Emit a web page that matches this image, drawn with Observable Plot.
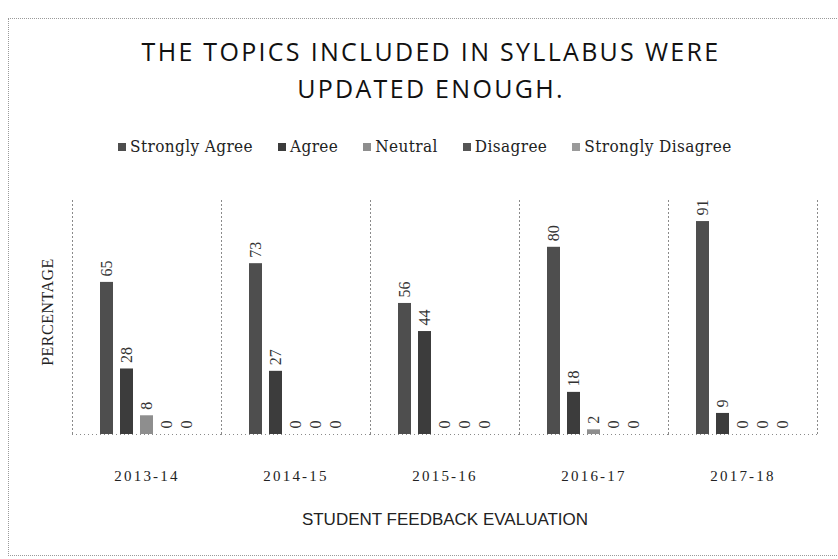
<!DOCTYPE html>
<html><head><meta charset="utf-8">
<script src="https://cdn.jsdelivr.net/npm/d3@7"></script>
<script src="https://cdn.jsdelivr.net/npm/@observablehq/plot@0.6"></script>
<style>
body{margin:0;background:#fff;width:838px;height:559px;position:relative;overflow:hidden;font-family:"Liberation Serif",serif;}
#frame{position:absolute;left:8px;top:18px;width:840px;height:536px;border-top:1px dotted #9a9a9a;border-left:1px dotted #9a9a9a;border-bottom:1px dotted #9a9a9a;}
.title{position:absolute;left:0;width:862px;text-align:center;font-family:"Open Sans",sans-serif;font-size:25px;letter-spacing:2.3px;color:#111;line-height:1;}
#legend{position:absolute;top:138px;left:118px;display:flex;font-family:"DejaVu Serif Condensed","DejaVu Serif",serif;font-size:17px;color:#222;letter-spacing:0.4px;white-space:nowrap;line-height:1;}
#legend .item{display:flex;align-items:center;margin-right:25px;}
#legend .sw{width:8px;height:8px;margin-right:4px;}
#ylabel{position:absolute;left:48px;top:312px;transform:translate(-50%,-50%) rotate(-90deg);font-size:16px;color:#222;letter-spacing:0.5px;white-space:nowrap;}
#xlabel{position:absolute;left:0;width:890px;top:510px;text-align:center;font-family:"Liberation Sans Narrow","Liberation Sans",sans-serif;font-size:17px;color:#222;white-space:nowrap;}
#chart{position:absolute;left:0;top:190px;}
#chart g[aria-label^="fx-axis"] text{letter-spacing:2.2px;}
</style>
</head><body>
<div id="frame"></div>
<div class="title" style="top:39px">THE TOPICS INCLUDED IN SYLLABUS WERE</div>
<div class="title" style="top:76px">UPDATED ENOUGH.</div>
<div id="legend"></div>
<div id="ylabel">PERCENTAGE</div>
<div id="xlabel">STUDENT FEEDBACK EVALUATION</div>
<div id="chart"></div>
<script>
const years = ["2013-14","2014-15","2015-16","2016-17","2017-18"];
const series = ["Strongly Agree","Agree","Neutral","Disagree","Strongly Disagree"];
const stronglyAgree = [65,73,56,80,91];
const agree = [28,27,44,18,9];
const neutral = [8,0,0,2,0];
const disagree = [0,0,0,0,0];
const stronglyDisagree = [0,0,0,0,0];
const colors = ["#4e4e4e","#3c3c3c","#8e8e8e","#555555","#9a9a9a"];

const seriesValues = [stronglyAgree, agree, neutral, disagree, stronglyDisagree];
const data = years.flatMap((yr, i) => seriesValues.map((arr, j) => ({year: yr, series: series[j], value: arr[i]})));

const legend = document.getElementById("legend");
series.forEach((s, j) => {
  const it = document.createElement("div");
  it.className = "item";
  it.innerHTML = `<span class="sw" style="background:${colors[j]}"></span><span>${s}</span>`;
  legend.appendChild(it);
});

const dotted = {stroke: "#8a8a8a", strokeDasharray: "1,3"};
const chart = Plot.plot({
  width: 838, height: 354,
  marginLeft: 70, marginRight: 20, marginTop: 10, marginBottom: 110,
  style: {fontFamily: "Liberation Serif", fontSize: "15px", color: "#222", background: "transparent"},
  fx: {domain: years, padding: 0, axis: "bottom", tickSize: 0, tickPadding: 36, label: null},
  x: {domain: series, axis: null, paddingInner: 0.33, paddingOuter: 1.24},
  y: {domain: [0, 100], axis: null},
  color: {domain: series, range: colors},
  marks: [
    Plot.frame({anchor: "left", ...dotted}),
    Plot.frame({anchor: "right", ...dotted}),
    Plot.ruleY([0], dotted),
    Plot.barY(data, {fx: "year", x: "series", y: "value", fill: "series"}),
    Plot.text(data, {fx: "year", x: "series", y: "value", text: d => String(d.value), rotate: -90, textAnchor: "start", lineAnchor: "middle", dy: -6, fill: "#333", fontSize: 16, fontFamily: "Liberation Serif"})
  ]
});
document.getElementById("chart").appendChild(chart);
</script>
</body></html>
